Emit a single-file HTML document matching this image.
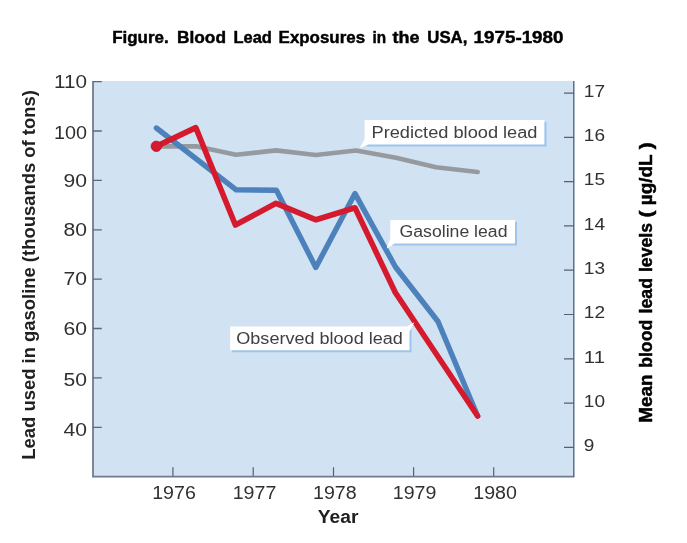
<!DOCTYPE html>
<html lang="en">
<head>
<meta charset="utf-8">
<title>Figure. Blood Lead Exposures in the USA, 1975-1980</title>
<style>
html,body{margin:0;padding:0;background:#fff;}
body{width:687px;height:543px;overflow:hidden;font-family:"Liberation Sans",sans-serif;}
svg{display:block;}
.t{font-family:"Liberation Sans",sans-serif;font-weight:bold;font-size:17px;fill:#000;stroke:#000;stroke-width:.45px;}
.n{font-family:"Liberation Sans",sans-serif;font-size:18px;fill:#303030;}
.l{font-family:"Liberation Sans",sans-serif;font-size:16px;fill:#404040;}
.a{font-family:"Liberation Sans",sans-serif;font-weight:bold;font-size:18px;fill:#202020;}
</style>
</head>
<body>
<svg width="687" height="543" viewBox="0 0 687 543">
<rect width="687" height="543" fill="#fff"/>
<!-- title -->
<g class="t">
<text x="112.2" y="42.5" textLength="56.5" lengthAdjust="spacingAndGlyphs">Figure.</text>
<text x="177" y="42.5" textLength="49" lengthAdjust="spacingAndGlyphs">Blood</text>
<text x="233.4" y="42.5" textLength="38.5" lengthAdjust="spacingAndGlyphs">Lead</text>
<text x="278.6" y="42.5" textLength="86.5" lengthAdjust="spacingAndGlyphs">Exposures</text>
<text x="372.4" y="42.5" textLength="13.6" lengthAdjust="spacingAndGlyphs">in</text>
<text x="392.6" y="42.5" textLength="27" lengthAdjust="spacingAndGlyphs">the</text>
<text x="427.3" y="42.5" textLength="40.1" lengthAdjust="spacingAndGlyphs">USA,</text>
<text x="473.6" y="42.5" textLength="89.9" lengthAdjust="spacingAndGlyphs">1975-1980</text>
</g>
<!-- plot background -->
<rect x="93" y="81" width="481.5" height="396" fill="#d1e2f3"/>

<g stroke="#6f778b" fill="none">
<path d="M93 81V476.6H574.4" stroke-width="1.8" stroke="#727a8e"/>
<path d="M573.8 81V476.6" stroke-width="1.2" stroke="#4c5569"/>
<path stroke-width="1.3" stroke="#5e687c" d="M93 81.6H101.8M93 131.0H101.8M93 180.4H101.8M93 229.8H101.8M93 279.2H101.8M93 328.5H101.8M93 377.9H101.8M93 427.3H101.8"/>
<path stroke-width="1.2" stroke="#566074" d="M564 93.1H574M564 137.4H574M564 181.7H574M564 225.9H574M564 270.2H574M564 314.5H574M564 358.8H574M564 403.1H574M564 447.3H574"/>
<path stroke-width="1.2" stroke="#566074" d="M172.9 467.3V476M253.2 467.3V476M333.5 467.3V476M413.6 467.3V476M493.7 467.3V476"/>
</g>
<g class="n">
<text x="54.0" y="87.5" textLength="33" lengthAdjust="spacingAndGlyphs">110</text>
<text x="54.0" y="138.8" textLength="33" lengthAdjust="spacingAndGlyphs">100</text>
<text x="63.5" y="187.1" textLength="23.5" lengthAdjust="spacingAndGlyphs">90</text>
<text x="63.5" y="235.6" textLength="23.5" lengthAdjust="spacingAndGlyphs">80</text>
<text x="63.5" y="284.8" textLength="23.5" lengthAdjust="spacingAndGlyphs">70</text>
<text x="63.5" y="335.4" textLength="23.5" lengthAdjust="spacingAndGlyphs">60</text>
<text x="63.5" y="385.8" textLength="23.5" lengthAdjust="spacingAndGlyphs">50</text>
<text x="63.5" y="435.6" textLength="23.5" lengthAdjust="spacingAndGlyphs">40</text>
<text style="font-size:17.4px" x="583.8" y="96.8" textLength="21.2" lengthAdjust="spacingAndGlyphs">17</text>
<text style="font-size:17.4px" x="583.8" y="141.1" textLength="21.2" lengthAdjust="spacingAndGlyphs">16</text>
<text style="font-size:17.4px" x="583.8" y="185.4" textLength="21.2" lengthAdjust="spacingAndGlyphs">15</text>
<text style="font-size:17.4px" x="583.8" y="229.6" textLength="21.2" lengthAdjust="spacingAndGlyphs">14</text>
<text style="font-size:17.4px" x="583.8" y="273.9" textLength="21.2" lengthAdjust="spacingAndGlyphs">13</text>
<text style="font-size:17.4px" x="583.8" y="318.2" textLength="21.2" lengthAdjust="spacingAndGlyphs">12</text>
<text style="font-size:17.4px" x="583.8" y="362.5" textLength="21.2" lengthAdjust="spacingAndGlyphs">11</text>
<text style="font-size:17.4px" x="583.8" y="406.8" textLength="21.2" lengthAdjust="spacingAndGlyphs">10</text>
<text style="font-size:17.4px" x="583.8" y="451.0" textLength="10.6" lengthAdjust="spacingAndGlyphs">9</text>
<text x="152.2" y="499" textLength="43.6" lengthAdjust="spacingAndGlyphs">1976</text>
<text x="232.7" y="499" textLength="43.6" lengthAdjust="spacingAndGlyphs">1977</text>
<text x="313.0" y="499" textLength="43.6" lengthAdjust="spacingAndGlyphs">1978</text>
<text x="392.8" y="499" textLength="43.6" lengthAdjust="spacingAndGlyphs">1979</text>
<text x="473.3" y="499" textLength="43.6" lengthAdjust="spacingAndGlyphs">1980</text>
</g>
<text class="a" x="317.8" y="522.9" textLength="40.6" lengthAdjust="spacingAndGlyphs">Year</text>
<text class="a" transform="translate(35.2 459.7) rotate(-90)" textLength="369.5" lengthAdjust="spacingAndGlyphs">Lead used in gasoline (thousands of tons)</text>
<g class="t" style="font-size:17.5px" transform="translate(652.1 422.8) rotate(-90)">
<text x="0" y="0" textLength="48.3" lengthAdjust="spacingAndGlyphs">Mean</text>
<text x="55" y="0" textLength="48" lengthAdjust="spacingAndGlyphs">blood</text>
<text x="109.4" y="0" textLength="35.4" lengthAdjust="spacingAndGlyphs">lead</text>
<text x="150.7" y="0" textLength="49.2" lengthAdjust="spacingAndGlyphs">levels</text>
<text x="205.3" y="0" textLength="7" lengthAdjust="spacingAndGlyphs">(</text>
<text x="217.6" y="0" textLength="50.6" lengthAdjust="spacingAndGlyphs">µg/dL</text>
<text x="273.6" y="0" textLength="7" lengthAdjust="spacingAndGlyphs">)</text>
</g>
<!-- series -->
<g fill="none" stroke-linejoin="round" stroke-linecap="round">
<polyline stroke="#969a9f" stroke-width="4.6" points="156.3,146.4 196,146.2 236,154.8 276,150.4 315.8,155 356,150.5 396,157.8 436,167.3 477.7,172"/>
<polyline stroke="#4c81bb" stroke-width="5.4" points="156.4,128 236.2,189.8 276.4,190.3 315.8,267.4 355,193.6 395.5,267 438,321.5 477.6,416"/>
<polyline stroke="#d61a2e" stroke-width="5.6" points="156.3,146.4 195.8,127.6 235.4,225 276,203.3 316,219.8 355,207.8 395.3,292.5 477.6,416"/>
</g>
<circle cx="156.3" cy="146.3" r="5.2" fill="#d61a2e" stroke="#b8142a" stroke-width="0.8"/>
<!-- callouts -->
<g>
<path d="M366.6 122H546.5V146.6H366.6Z" fill="#9bc5ec"/>
<path d="M364.6 120H544.4V144.4H368.4L359.8 148L364.6 139Z" fill="#fff"/>
<text class="l" x="371.5" y="137.8" textLength="166" lengthAdjust="spacingAndGlyphs">Predicted blood lead</text>
<path d="M392.3 221.9H517V245.6H392.3Z" fill="#9bc5ec"/>
<path d="M390.3 219.9H515V243.5H394.8L386.6 248.4L390.3 238.5Z" fill="#fff"/>
<text class="l" x="399.5" y="237" textLength="108" lengthAdjust="spacingAndGlyphs">Gasoline lead</text>
<path d="M232.2 328.6H411.5V352.2H232.2Z" fill="#9bc5ec"/>
<path d="M230.2 326.6H407L414.4 322.2L409.5 331.8V350.2H230.2Z" fill="#fff"/>
<text class="l" x="236.3" y="344.4" textLength="166.5" lengthAdjust="spacingAndGlyphs">Observed blood lead</text>
</g>
</svg>
</body>
</html>
